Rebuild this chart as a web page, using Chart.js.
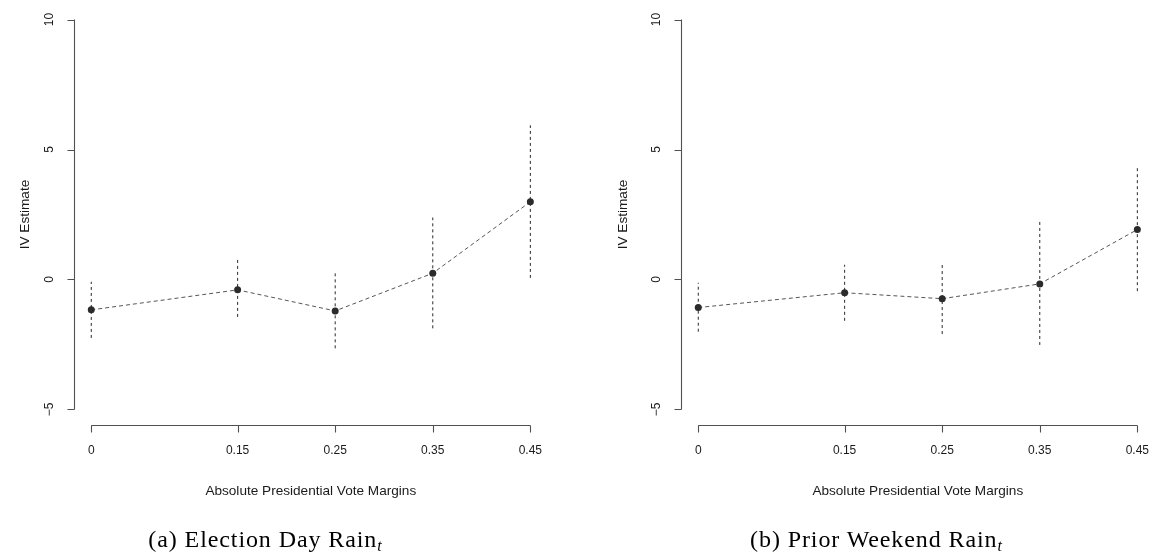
<!DOCTYPE html>
<html>
<head>
<meta charset="utf-8">
<script src="https://cdn.jsdelivr.net/npm/chart.js@4/dist/chart.umd.min.js"></script>
<style>
html,body{margin:0;padding:0;background:#fff;overflow:hidden;width:1153px;height:555px;position:relative;}
.panel{position:absolute;top:0;width:576px;height:555px;}
.caption{position:absolute;top:525px;font-family:"Liberation Serif","DejaVu Serif",serif;font-size:24px;letter-spacing:0.9px;color:#000;white-space:nowrap;transform:translateX(-50%);line-height:28px;}
.caption sub{font-size:16px;font-style:italic;vertical-align:-4px;line-height:0;letter-spacing:0;}
</style>
</head>
<body>
<div class="panel" style="left:0px"><canvas id="c1" width="576" height="555"></canvas></div>
<div class="panel" style="left:607px"><canvas id="c2" width="576" height="555"></canvas></div>
<div class="caption" style="left:265px">(a) Election Day Rain<sub>t</sub></div>
<div class="caption" style="left:876px">(b) Prior Weekend Rain<sub>t</sub></div>
<script>
// ---- data ----
const margins = [0, 0.15, 0.25, 0.35, 0.45];
const xTickLabels = ["0", "0.15", "0.25", "0.35", "0.45"];
const yTicks = [-5, 0, 5, 10];

const electionEst   = [-1.17, -0.40, -1.21, 0.24, 2.99];
const electionLower = [-2.25, -1.44, -2.65, -1.88, 0.06];
const electionUpper = [-0.09,  0.76,  0.35, 2.38, 5.93];

const weekendEst   = [-1.08, -0.51, -0.74, -0.17, 1.92];
const weekendLower = [-2.01, -1.59, -2.10, -2.52, -0.45];
const weekendUpper = [-0.13,  0.57,  0.63,  2.28, 4.38];

const xTitle = "Absolute Presidential Vote Margins";
const yTitle = "IV Estimate";

// ---- drawing ----
const AXIS = '#505050';
const TXT = '#1a1a1a';
const FONT = '12px "Liberation Sans", Arial, Helvetica, sans-serif';
const TITLE_FONT = '13.6px "Liberation Sans", Arial, Helvetica, sans-serif';

function rAxesPlugin(yTitleX) {
  return {
    id: 'rAxes',
    afterDraw(chart) {
      const ctx = chart.ctx;
      const xs = chart.scales.x, ys = chart.scales.y;
      const area = chart.chartArea;
      ctx.save();
      ctx.strokeStyle = AXIS;
      ctx.lineWidth = 1.1;
      ctx.setLineDash([]);
      // y axis
      const ax = Math.round(area.left) + 0.5;
      const yTop = ys.getPixelForValue(yTicks[yTicks.length - 1]);
      const yBot = ys.getPixelForValue(yTicks[0]);
      ctx.beginPath();
      ctx.moveTo(ax, yTop); ctx.lineTo(ax, yBot);
      yTicks.forEach(v => {
        const p = Math.round(ys.getPixelForValue(v)) + 0.5;
        ctx.moveTo(ax - 7, p); ctx.lineTo(ax, p);
      });
      // x axis
      const ay = Math.round(area.bottom) + 0.5;
      const xL = xs.getPixelForValue(margins[0]);
      const xR = xs.getPixelForValue(margins[margins.length - 1]);
      ctx.moveTo(xL, ay); ctx.lineTo(xR, ay);
      margins.forEach(v => {
        const p = Math.round(xs.getPixelForValue(v)) + 0.5;
        ctx.moveTo(p, ay); ctx.lineTo(p, ay + 7);
      });
      ctx.stroke();
      // labels
      ctx.fillStyle = TXT;
      ctx.font = FONT;
      ctx.textAlign = 'center';
      ctx.textBaseline = 'middle';
      yTicks.forEach(v => {
        const p = ys.getPixelForValue(v);
        ctx.save();
        ctx.translate(ax - 24.5, p);
        ctx.rotate(-Math.PI / 2);
        ctx.fillText(String(v).replace('-', '\u2212'), 0, 0);
        ctx.restore();
      });
      margins.forEach((v, i) => {
        ctx.fillText(xTickLabels[i], xs.getPixelForValue(v), ay + 25);
      });
      ctx.font = TITLE_FONT;
      ctx.fillText(xTitle, (area.left + area.right) / 2, ay + 66);
      ctx.save();
      ctx.translate(yTitleX, (yTop + yBot) / 2);
      ctx.rotate(-Math.PI / 2);
      ctx.fillText(yTitle, 0, 0);
      ctx.restore();
      ctx.restore();
    }
  };
}

function makeChart(id, est, lo, hi, yTitleX) {
  const datasets = [{
    data: margins.map((m, i) => ({x: m, y: est[i]})),
    borderColor: '#555',
    borderWidth: 1,
    borderDash: [4, 3],
    backgroundColor: '#2b2b2b',
    pointBackgroundColor: '#2b2b2b',
    pointBorderColor: '#2b2b2b',
    pointRadius: 3.5,
    pointBorderWidth: 0,
    tension: 0,
    order: 0
  }];
  margins.forEach((m, i) => {
    datasets.push({
      data: [{x: m, y: lo[i]}, {x: m, y: hi[i]}],
      borderColor: '#2a2a2a',
      borderWidth: 1,
      borderDash: [3, 3],
      pointRadius: 0,
      order: 1
    });
  });
  return new Chart(document.getElementById(id), {
    type: 'line',
    data: {datasets},
    options: {
      responsive: false,
      animation: false,
      devicePixelRatio: 1,
      layout: {padding: {left: 73.7, right: 28.1, top: 0, bottom: 130}},
      plugins: {legend: {display: false}, tooltip: {enabled: false}},
      scales: {
        x: {type: 'linear', min: -0.018, max: 0.468, display: false},
        y: {type: 'linear', min: -5.6, max: 10.6, display: false}
      }
    },
    plugins: [rAxesPlugin(yTitleX)]
  });
}

makeChart('c1', electionEst, electionLower, electionUpper, 25);
makeChart('c2', weekendEst, weekendLower, weekendUpper, 16);
</script>
</body>
</html>
